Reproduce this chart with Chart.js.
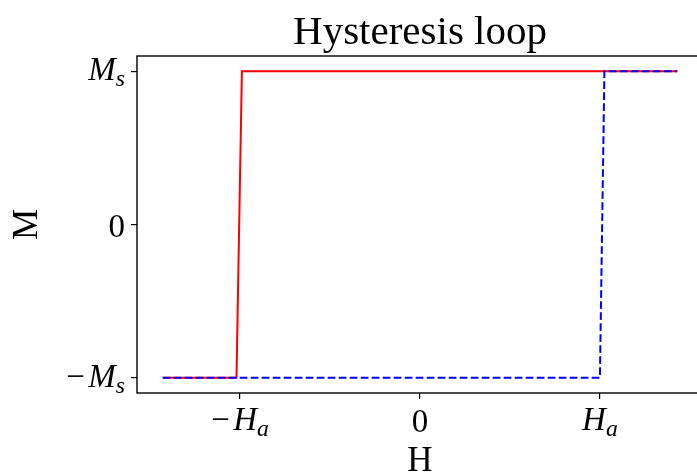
<!DOCTYPE html>
<html>
<head>
<meta charset="utf-8">
<script src="https://cdn.jsdelivr.net/npm/chart.js@4.4.1/dist/chart.umd.min.js"></script>
<style>
  html, body { margin: 0; padding: 0; background: #fff; overflow: hidden; }
  canvas { display: block; }
</style>
</head>
<body>
<canvas id="loopChart" width="720" height="472"></canvas>
<script>
// Hysteresis loop data (H in units of Ha, M in units of Ms)
const redH = [-1.43, -1.02, -0.99, 1.43];
const redM = [-1, -1, 1, 1];
const blueH = [-1.43, 1.0, 1.025, 1.43];
const blueM = [-1, -1, 1, 1];

const xTickValues = [-1, 0, 1];
const xTickLabels = ['\u2212H_a', '0', 'H_a'];
const yTickValues = [-1, 0, 1];
const yTickLabels = ['\u2212M_s', '0', 'M_s'];

const SERIF = '"Liberation Serif", "DejaVu Serif", serif';

function toPoints(xs, ys) {
  return xs.map((x, i) => ({x: x, y: ys[i]}));
}

// split "−H_a" into pieces: plain / italic / subscript
function mathTokens(label) {
  const parts = label.split('_');
  const toks = [];
  for (const ch of parts[0]) {
    toks.push({t: ch, italic: /[A-Za-z]/.test(ch), sub: false});
  }
  if (parts[1]) toks.push({t: parts[1], italic: true, sub: true});
  return toks;
}

function drawMath(ctx, label, x, y, size, align) {
  const toks = mathTokens(label);
  const fontOf = (tk) => {
    const s = tk.sub ? size * 0.72 : size;
    return (tk.italic ? 'italic ' : '') + s + 'px ' + SERIF;
  };
  let w = 0;
  toks.forEach(tk => {
    ctx.font = fontOf(tk);
    tk.w = ctx.measureText(tk.t).width + (tk.t === '\u2212' ? size * 0.1 : 0);
    w += tk.w;
  });
  let cx = align === 'right' ? x - w : (align === 'center' ? x - w / 2 : x);
  ctx.textAlign = 'left';
  ctx.textBaseline = 'alphabetic';
  toks.forEach(tk => {
    ctx.font = fontOf(tk);
    ctx.fillText(tk.t, cx, tk.sub ? y + size * 0.18 : y);
    cx += tk.w;
  });
}

const decorPlugin = {
  id: 'decor',
  afterDraw(chart) {
    const ctx = chart.ctx;
    const a = chart.chartArea;
    const xs = chart.scales.x;
    const ys = chart.scales.y;
    const midX = xs.getPixelForValue(0);
    ctx.save();
    ctx.fillStyle = '#000';

    // frame
    ctx.strokeStyle = '#000';
    ctx.lineWidth = 1.4;
    ctx.strokeRect(a.left, a.top, a.right - a.left, a.bottom - a.top);

    // tick labels
    xTickValues.forEach((v, i) => {
      const px = xs.getPixelForValue(v);
      const lab = xTickLabels[i];
      drawMath(ctx, lab, px, a.bottom + (lab === '0' ? 39 : 37), 33, 'center');
    });
    yTickValues.forEach((v, i) => {
      const py = ys.getPixelForValue(v);
      const lab = yTickLabels[i];
      drawMath(ctx, lab, a.left - 12, py + (lab === '0' ? 12 : 9), 33, 'right');
    });

    // title
    ctx.font = '41px ' + SERIF;
    ctx.textAlign = 'center';
    ctx.textBaseline = 'alphabetic';
    ctx.fillText('Hysteresis loop', midX, 44);

    // axis titles
    ctx.font = '35px ' + SERIF;
    ctx.fillText('H', midX, 471);
    ctx.translate(37, (a.top + a.bottom) / 2);
    ctx.rotate(-Math.PI / 2);
    ctx.fillText('M', 0, 0);
    ctx.restore();
  }
};

new Chart(document.getElementById('loopChart').getContext('2d'), {
  type: 'line',
  data: {
    datasets: [
      {
        label: 'ascending',
        data: toPoints(blueH, blueM),
        borderColor: '#0000ff',
        borderWidth: 2,
        borderDash: [7.7, 3.3],
        pointRadius: 0,
        tension: 0,
        fill: false,
        order: 1
      },
      {
        label: 'descending',
        data: toPoints(redH, redM),
        borderColor: '#ff0000',
        borderWidth: 2,
        pointRadius: 0,
        tension: 0,
        fill: false,
        order: 2
      }
    ]
  },
  options: {
    responsive: false,
    animation: false,
    layout: {padding: {top: 56, right: 17, left: 0, bottom: 0}},
    plugins: {legend: {display: false}, tooltip: {enabled: false}, title: {display: false}},
    scales: {
      x: {
        type: 'linear',
        min: -1.573,
        max: 1.573,
        afterBuildTicks: (s) => { s.ticks = xTickValues.map(v => ({value: v})); },
        afterFit: (s) => { s.height = 79; },
        ticks: {display: false},
        grid: {drawOnChartArea: false, drawTicks: true, tickLength: 6, color: '#000', lineWidth: 1.2},
        border: {display: false}
      },
      y: {
        type: 'linear',
        min: -1.1,
        max: 1.1,
        afterBuildTicks: (s) => { s.ticks = yTickValues.map(v => ({value: v})); },
        afterFit: (s) => { s.width = 137; },
        ticks: {display: false},
        grid: {drawOnChartArea: false, drawTicks: true, tickLength: 6, color: '#000', lineWidth: 1.2},
        border: {display: false}
      }
    }
  },
  plugins: [decorPlugin]
});
</script>
</body>
</html>
